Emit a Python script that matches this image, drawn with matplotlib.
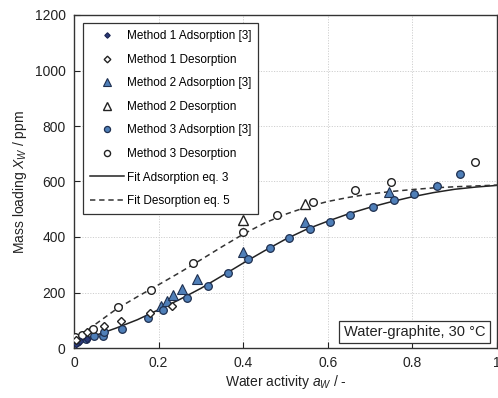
import matplotlib
matplotlib.use("Agg")
import matplotlib.pyplot as plt

plt.rcParams['font.family'] = ['Liberation Sans', 'DejaVu Sans']
plt.rcParams['mathtext.fontset'] = 'custom'
plt.rcParams['mathtext.rm'] = 'Liberation Sans'
plt.rcParams['mathtext.it'] = 'Liberation Sans:italic'

# ---- data ----
m1_ads_x = [0.004, 0.015, 0.03]
m1_ads_y = [15, 24, 33]
m1_des_x = [0.005, 0.03, 0.07, 0.11, 0.18, 0.232]
m1_des_y = [30, 56, 80, 98, 125, 152]
m2_ads_x = [0.205, 0.22, 0.235, 0.255, 0.29, 0.40, 0.545, 0.745]
m2_ads_y = [150, 170, 190, 212, 249, 346, 454, 562]
m2_des_x = [0.40, 0.546]
m2_des_y = [462, 519]
m3_ads_x = [0.007, 0.028, 0.047, 0.069, 0.071, 0.113, 0.175, 0.21, 0.267, 0.317,
            0.364, 0.411, 0.463, 0.508, 0.558, 0.605, 0.652, 0.707, 0.757, 0.804,
            0.858, 0.913]
m3_ads_y = [20, 34, 42, 42, 56, 70, 108, 137, 180, 223,
            270, 321, 360, 396, 429, 454, 479, 508, 532, 555,
            584, 627]
m3_des_x = [0.003, 0.018, 0.045, 0.104, 0.182, 0.282, 0.40, 0.48, 0.565, 0.664,
            0.749, 0.948]
m3_des_y = [38, 47, 68, 148, 209, 307, 418, 480, 526, 568,
            598, 670]

fit_x = [0.0, 0.05, 0.1, 0.15, 0.2, 0.25, 0.3, 0.35, 0.4, 0.45, 0.5,
         0.55, 0.6, 0.65, 0.7, 0.75, 0.8, 0.85, 0.9, 0.95, 1.0]
fit_ads_y = [20, 45, 72, 102, 138, 175, 215, 260, 306, 350, 392,
             428, 457, 484, 507, 527, 545, 560, 572, 580, 586]
fit_des_y = [25, 85, 140, 185, 228, 272, 318, 365, 410, 450, 482,
             508, 528, 543, 555, 564, 571, 577, 581, 584, 587]

xticks = [0, 0.2, 0.4, 0.6, 0.8, 1]
xticklabels = ['0', '0.2', '0.4', '0.6', '0.8', '1']
yticks = [0, 200, 400, 600, 800, 1000, 1200]

fill_blue = '#4f7fb8'
edge_dark = '#1e2f4f'

fig = plt.figure(figsize=(4.98, 3.98), dpi=100)
ax = fig.add_axes([74/498, 50/398, 423/498, 333/398])

ax.plot(fit_x, fit_ads_y, '-', color='#222222', lw=1.1, label='Fit Adsorption eq. 3', zorder=2)
ax.plot(fit_x, fit_des_y, '--', color='#333333', lw=1.1, dashes=(3.5, 2.5), label='Fit Desorption eq. 5', zorder=2)

ax.plot(m1_ads_x, m1_ads_y, 'D', ms=3.5, mfc='#2b3a78', mec='#1a2450', mew=0.8, ls='none',
        label='Method 1 Adsorption [3]', zorder=4)
ax.plot(m1_des_x, m1_des_y, 'D', ms=4.2, mfc='white', mec='#222222', mew=1.0, ls='none',
        label='Method 1 Desorption', zorder=4)
ax.plot(m2_ads_x, m2_ads_y, '^', ms=6.5, mfc=fill_blue, mec=edge_dark, mew=0.8, ls='none',
        label='Method 2 Adsorption [3]', zorder=3)
ax.plot(m2_des_x, m2_des_y, '^', ms=6.5, mfc='white', mec='#222222', mew=1.0, ls='none',
        label='Method 2 Desorption', zorder=3)
ax.plot(m3_ads_x, m3_ads_y, 'o', ms=5.5, mfc=fill_blue, mec=edge_dark, mew=0.9, ls='none',
        label='Method 3 Adsorption [3]', zorder=3)
ax.plot(m3_des_x, m3_des_y, 'o', ms=5.5, mfc='white', mec='#222222', mew=1.0, ls='none',
        label='Method 3 Desorption', zorder=3)

ax.set_xlim(0, 1)
ax.set_ylim(0, 1200)
ax.set_xticks(xticks)
ax.set_xticklabels(xticklabels)
ax.set_yticks(yticks)
ax.tick_params(direction='in', length=4, width=0.8, labelsize=10, colors='#222222', pad=6)
for s in ax.spines.values():
    s.set_color('#333333')
    s.set_linewidth(1.0)

for v in [0.2, 0.4, 0.6, 0.8]:
    ax.axvline(v, color='#cfcfcf', lw=0.7, ls=(0, (1.2, 1.5)), zorder=0)
for v in [200, 400, 600, 800, 1000]:
    ax.axhline(v, color='#cfcfcf', lw=0.7, ls=(0, (1.2, 1.5)), zorder=0)

ax.set_xlabel('Water activity $a_W$ / -', fontsize=10, color='#222222', labelpad=2)
ax.set_ylabel('Mass loading $X_W$ / ppm', fontsize=10, color='#222222', labelpad=4)

handles, labels = ax.get_legend_handles_labels()
order = [2, 3, 4, 5, 6, 7, 0, 1]
leg = ax.legend([handles[i] for i in order], [labels[i] for i in order],
                loc='upper left', bbox_to_anchor=(9/423, 1 - 8/333),
                fontsize=8.5, frameon=True, fancybox=False, edgecolor='#333333',
                framealpha=1, labelspacing=0.98, handlelength=2.9, handletextpad=0.2,
                borderpad=0.6, borderaxespad=0, markerscale=0.8)
leg.get_frame().set_linewidth(0.9)

ax.text(0.972, 0.027, 'Water-graphite, 30 °C', transform=ax.transAxes, ha='right', va='bottom',
        fontsize=10.5, color='#222222',
        bbox=dict(boxstyle='square,pad=0.3', fc='white', ec='#333333', lw=0.9))

fig.savefig('out.png', dpi=100)
